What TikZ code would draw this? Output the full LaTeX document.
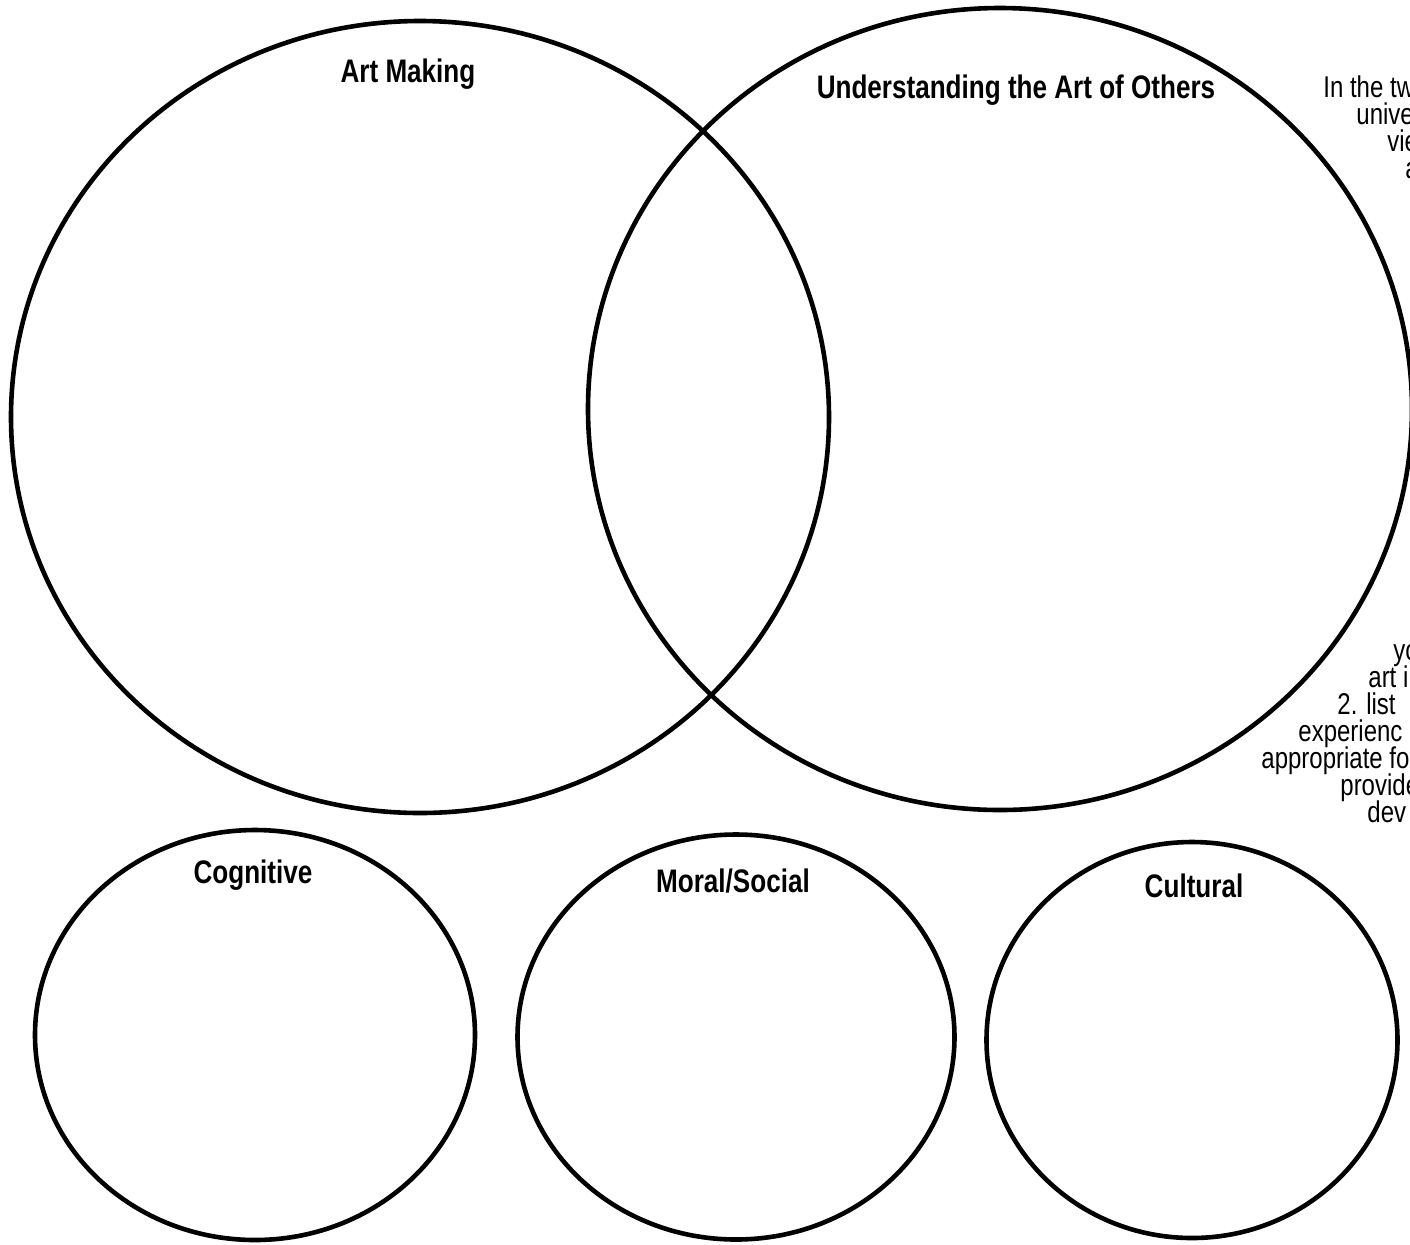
\documentclass[tikz,border=0pt]{standalone}
\usepackage{fontspec}
\setmainfont{Liberation Sans}[FakeStretch=0.8]
\usetikzlibrary{shapes.geometric}
\begin{document}
\begin{tikzpicture}[x=0.5pt,y=-0.5pt]
        \tikzstyle{ring}=[draw,shape=ellipse,line width=2.3pt,inner sep=0pt];
        \tikzstyle{head}=[anchor=base,inner sep=0pt,font=\fontsize{16.3}{14}\selectfont\bfseries];
        \tikzstyle{note}=[anchor=base west,inner sep=0pt,font=\fontsize{15}{13.5}\selectfont];
        \useasboundingbox (0,0) rectangle (1410,1244);
        \clip (0,0) rectangle (1410,1244);
        %\node (name) at (x,y) [ring,minimum width=..,minimum height=..] {};
        \node (making) at (420,417) [ring,minimum width=409pt,minimum height=396pt] {};
        \node (others) at (1000,409) [ring,minimum width=412pt,minimum height=401pt] {};
        \node (cog) at (255,1035) [ring,minimum width=220pt,minimum height=205pt] {};
        \node (moral) at (736,1037) [ring,minimum width=218.5pt,minimum height=202.5pt] {};
        \node (cult) at (1192,1040) [ring,minimum width=205.5pt,minimum height=198pt] {};
        % titles
        \node (t1) at (408,82) [head] {Art Making};
        \node (t2) at (1016,98) [head] {Understanding the Art of Others};
        \node (t3) at (253,883) [head] {Cognitive};
        \node (t4) at (733,892) [head] {Moral/Social};
        \node (t5) at (1194,897) [head] {Cultural};
        % text running off the page
        \node (n1) at (1323,97) [note] {In the tw};
        \node (n2) at (1356,124) [note] {unive};
        \node (n3) at (1387,151) [note] {vie};
        \node (n4) at (1405,178) [note] {a};
        \node (n5) at (1393,660) [note] {yo};
        \node (n6) at (1368,687) [note] {art i};
        \node (n7) at (1337,714) [note] {2. list};
        \node (n8) at (1298,741) [note] {experienc};
        \node (n9) at (1261,768) [note] {appropriate fo};
        \node (n10) at (1340,795) [note] {provide};
        \node (n11) at (1367,822) [note] {dev};
    \end{tikzpicture}
\end{document}
